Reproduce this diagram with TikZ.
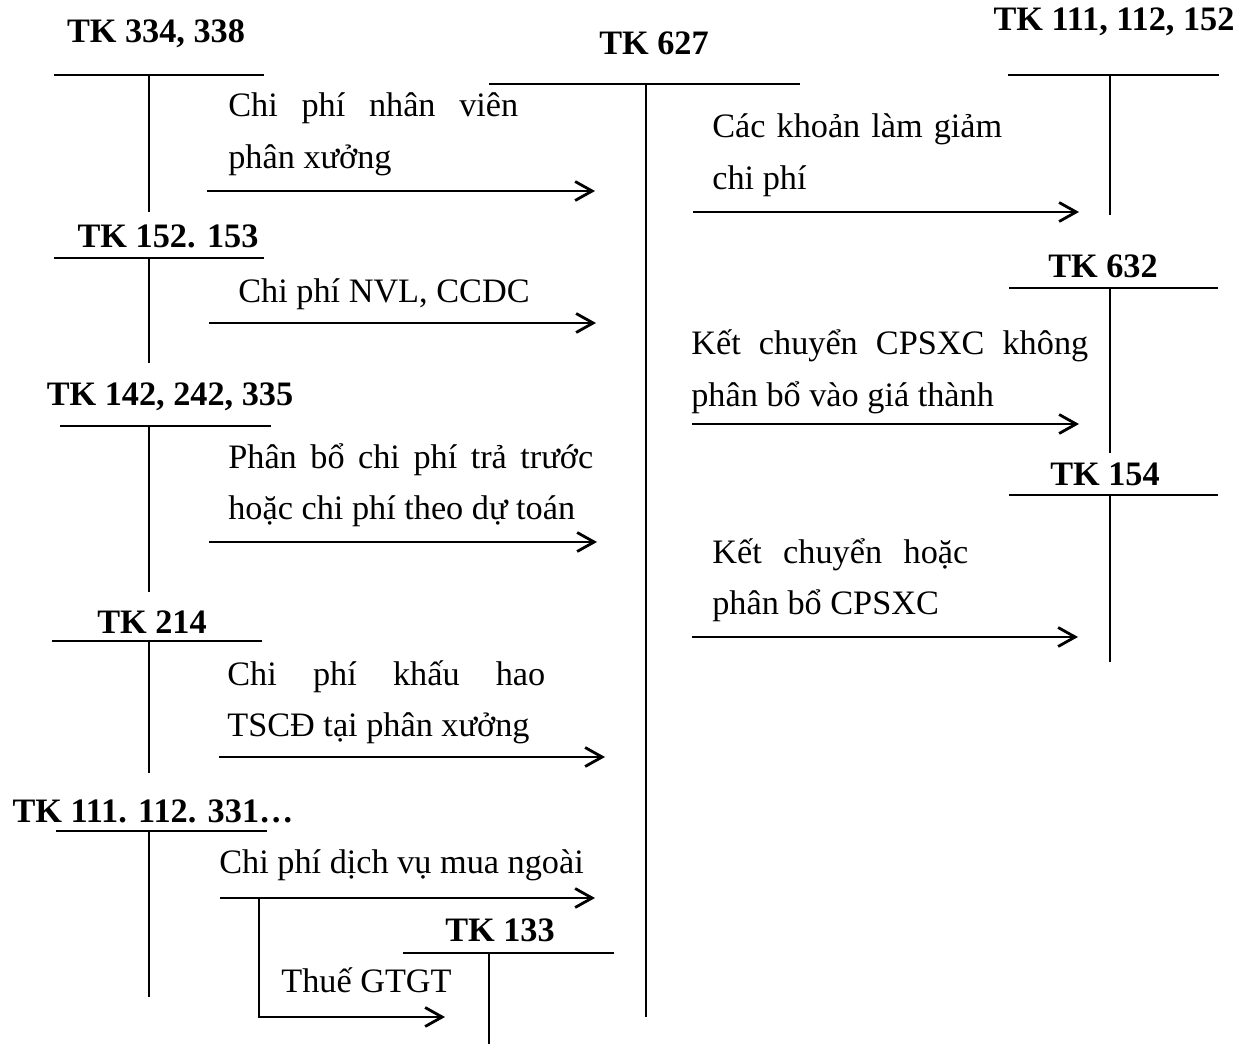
\documentclass[tikz,border=0pt]{standalone}
\usepackage{fontspec}
\setmainfont{Liberation Serif}
\usepackage{tikz}
\usetikzlibrary{arrows.meta}

\begin{document}
\fontsize{19.5pt}{29.3pt}\selectfont
\begin{tikzpicture}[x=0.02cm,y=-0.02cm,
  tk/.style={font=\bfseries,anchor=base,inner sep=0pt},
  nd/.style={anchor=base west,inner sep=0pt,align=justify},
  tline/.style={line width=1.1pt},
  muiten/.style={line width=1.6pt,-{Straight Barb[length=0.34cm,width=0.38cm]}}]
\useasboundingbox (0,0) rectangle (1241,1044);
\node[tk] (tk334) at (156,43) {TK 334, 338};
\draw[tline] (54,75) -- (264,75);
\draw[tline] (149,75) -- (149,212);
\node[tk] (tk152) at (168,248) {TK 152. 153};
\draw[tline] (54,258) -- (264,258);
\draw[tline] (149,258) -- (149,363);
\node[tk] (tk142) at (170,405) {TK 142, 242, 335};
\draw[tline] (60,426) -- (271,426);
\draw[tline] (149,426) -- (149,592);
\node[tk] (tk214) at (152,633) {TK 214};
\draw[tline] (52,641) -- (262,641);
\draw[tline] (149,641) -- (149,773);
\node[tk] (tk111l) at (153,822) {TK 111. 112. 331…};
\draw[tline] (56,831) -- (267,831);
\draw[tline] (149,831) -- (149,997);
\node[tk] (tk627) at (654,55) {TK 627};
\draw[tline] (489,84) -- (800,84);
\draw[tline] (646,84) -- (646,1017);
\node[tk] (tk133) at (500,941) {TK 133};
\draw[tline] (403,953) -- (614,953);
\draw[tline] (489,953) -- (489,1044);
\node[tk] (tk111r) at (1114,31) {TK 111, 112, 152};
\draw[tline] (1008,75) -- (1219,75);
\draw[tline] (1110,75) -- (1110,215);
\node[tk] (tk632) at (1103,277) {TK 632};
\draw[tline] (1009,288) -- (1218,288);
\draw[tline] (1110,288) -- (1110,453);
\node[tk] (tk154) at (1105,485) {TK 154};
\draw[tline] (1009,495) -- (1218,495);
\draw[tline] (1110,495) -- (1110,662);
\node[nd,text width=5.8cm] (nhanvien) at (228,117) {Chi phí nhân viên\linebreak phân xưởng};
\node[nd] (nvl) at (238,302) {Chi phí NVL, CCDC};
\node[nd,text width=7.3cm] (phanbo) at (228,468) {Phân bổ chi phí trả trước\linebreak hoặc chi phí theo dự toán};
\node[nd,text width=6.36cm] (khauhao) at (227,685) {Chi phí khấu hao\linebreak TSCĐ tại phân xưởng};
\node[nd] (dichvu) at (219,873) {Chi phí dịch vụ mua ngoài};
\node[nd] (thue) at (281,992) {Thuế GTGT};
\node[nd,text width=5.8cm] (giam) at (712,138) {Các khoản làm giảm\linebreak chi phí};
\node[nd,text width=7.94cm] (kc632) at (691,355) {Kết chuyển CPSXC không\linebreak phân bổ vào giá thành};
\node[nd,text width=5.12cm] (kc154) at (712,563) {Kết chuyển hoặc\linebreak phân bổ CPSXC};
\coordinate (a1) at (207,191);
\coordinate (b1) at (595,191);
\coordinate (a2) at (209,323);
\coordinate (b2) at (596,323);
\coordinate (a3) at (209,542);
\coordinate (b3) at (597,542);
\coordinate (a4) at (219,757);
\coordinate (b4) at (605,757);
\coordinate (a5) at (220,898);
\coordinate (b5) at (595,898);
\coordinate (c5) at (259,898);
\coordinate (d5) at (445,1017);
\coordinate (a6) at (693,212);
\coordinate (b6) at (1079,212);
\coordinate (a7) at (692,424);
\coordinate (b7) at (1079,424);
\coordinate (a8) at (692,637);
\coordinate (b8) at (1078,637);
\draw[muiten] (a1) -- (b1);
\draw[muiten] (a2) -- (b2);
\draw[muiten] (a3) -- (b3);
\draw[muiten] (a4) -- (b4);
\draw[muiten] (a5) -- (b5);
\draw[muiten] (c5) |- (d5);
\draw[muiten] (a6) -- (b6);
\draw[muiten] (a7) -- (b7);
\draw[muiten] (a8) -- (b8);
\end{tikzpicture}
\end{document}
